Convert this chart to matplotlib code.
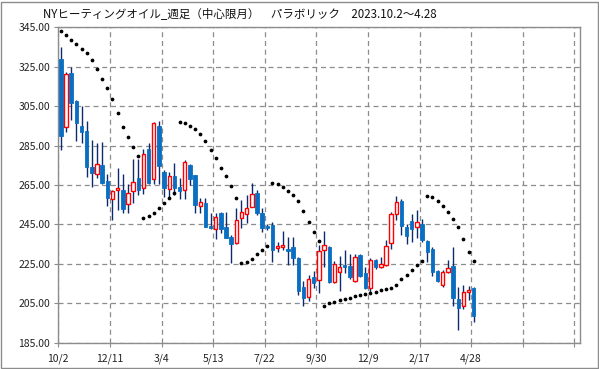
import matplotlib
matplotlib.use("Agg")
import matplotlib.pyplot as plt
from matplotlib.patches import Rectangle
import numpy as np

plt.rcParams['font.family'] = ['Noto Sans CJK JP', 'DejaVu Sans']

title = "NYヒーティングオイル_週足（中心限月）　パラボリック　2023.10.2〜4.28"
xtick_labels = ["10/2", "12/11", "3/4", "5/13", "7/22", "9/30", "12/9", "2/17", "4/28", "", ""]
yticks = [185, 205, 225, 245, 265, 285, 305, 325, 345]

opens = [328.8, 294.5, 321.7, 307.5, 294.8, 292.4, 274.2, 270.5, 274.9, 266.8,
         257.7, 262.7, 262.7, 255.3, 261.9, 268.5, 263.3, 283.5, 268.0, 294.8,
         271.4, 262.9, 269.5, 263.9, 262.4, 275.1, 270.0, 254.4, 255.7, 244.1,
         242.8, 250.6, 243.6, 238.7, 235.4, 248.1, 250.1, 253.9, 261.0, 250.6,
         244.1, 244.7, 232.8, 233.8, 232.5, 233.4, 228.1, 213.4, 208.3, 218.5,
         216.8, 232.0, 233.5, 215.9, 220.7, 224.4, 223.9, 216.4, 229.4, 220.2,
         212.9, 226.9, 223.5, 224.2, 235.4, 250.2, 256.8, 243.5, 246.7, 243.5,
         245.2, 236.7, 232.5, 221.3, 214.2, 221.0, 223.9, 207.1, 203.6, 210.6,
         212.6]
highs = [335.0, 322.5, 324.9, 308.0, 305.0, 297.4, 287.7, 286.4, 286.9, 270.4,
         262.5, 273.4, 270.4, 265.4, 278.3, 278.3, 283.3, 286.1, 297.2, 297.5,
         272.5, 271.4, 276.2, 268.8, 277.5, 275.5, 270.3, 258.2, 258.2, 250.9,
         250.9, 251.1, 251.1, 239.6, 253.1, 257.3, 259.9, 265.8, 262.4, 253.1,
         245.0, 246.3, 236.2, 241.6, 238.7, 238.4, 228.3, 216.4, 219.3, 221.3,
         234.5, 241.6, 234.0, 226.4, 228.9, 232.0, 229.8, 230.0, 229.8, 223.2,
         227.8, 227.6, 228.6, 237.0, 251.4, 259.4, 257.7, 245.2, 250.1, 252.3,
         247.5, 237.0, 233.4, 221.8, 221.8, 226.9, 233.4, 213.4, 214.2, 213.7,
         213.1]
lows = [283.0, 291.9, 297.9, 287.4, 286.1, 269.1, 264.1, 268.6, 265.5, 254.4,
        247.2, 252.3, 250.6, 250.6, 255.7, 259.9, 260.2, 265.5, 265.4, 265.4,
        259.0, 257.7, 259.9, 257.7, 257.7, 264.9, 250.9, 250.9, 243.6, 242.5,
        237.4, 240.4, 238.2, 225.2, 235.2, 243.0, 245.5, 253.7, 249.7, 241.3,
        242.0, 226.1, 231.1, 232.0, 224.4, 224.4, 209.2, 203.6, 206.1, 212.6,
        210.0, 223.5, 215.4, 215.4, 211.4, 220.2, 217.3, 216.0, 218.5, 212.1,
        210.8, 222.6, 223.0, 223.9, 232.7, 247.2, 239.6, 235.0, 236.2, 237.9,
        236.0, 226.1, 218.8, 215.9, 213.4, 220.2, 203.8, 191.4, 201.9, 206.6,
        195.6]
closes = [289.9, 321.2, 306.8, 296.7, 291.9, 274.2, 271.2, 275.9, 265.8, 258.2,
          261.9, 263.6, 252.6, 260.7, 266.6, 262.7, 280.5, 265.8, 296.2, 274.7,
          263.6, 269.5, 263.6, 262.0, 276.7, 268.0, 254.8, 256.2, 243.8, 243.3,
          248.6, 242.6, 238.2, 234.9, 247.2, 251.1, 253.1, 260.2, 250.6, 243.3,
          243.3, 232.0, 234.2, 234.4, 231.6, 227.8, 211.4, 207.8, 217.3, 215.1,
          231.5, 234.4, 215.9, 224.7, 223.2, 223.5, 218.1, 228.3, 219.0, 212.9,
          226.9, 223.2, 224.7, 234.3, 250.1, 256.2, 244.3, 239.2, 242.6, 246.0,
          237.0, 231.1, 221.0, 216.4, 220.7, 222.7, 207.8, 202.4, 210.8, 211.0,
          198.7]
sar = [343.0, 341.3, 338.8, 336.7, 334.2, 332.0, 328.6, 323.6, 319.0, 314.4,
       308.4, 301.3, 294.5, 289.1, 284.3, 279.8, 248.1, 249.2, 250.6, 253.1,
       255.7, 258.2, 260.7, 297.0, 296.2, 294.8, 293.2, 291.1, 287.4, 283.0,
       278.8, 273.7, 269.8, 264.4, 258.5, 225.2, 226.1, 227.3, 229.8, 232.0,
       234.0, 265.8, 265.3, 263.9, 262.0, 259.7, 257.1, 251.9, 246.3, 241.3,
       236.7, 203.8, 205.0, 205.5, 206.6, 207.1, 207.8, 208.6, 209.2, 209.7,
       210.3, 210.8, 211.7, 212.2, 212.5, 214.2, 217.3, 219.3, 221.8, 224.2,
       226.4, 259.4, 258.7, 257.0, 254.6, 251.1, 247.8, 243.5, 237.4, 231.1,
       226.4]

W, H = 599, 369
fig = plt.figure(figsize=(W / 100, H / 100), dpi=100)
fig.patch.set_facecolor('white')
ax = fig.add_axes([58.3 / W, (H - 342.7) / H, (580 - 58.3) / W, (342.7 - 27.3) / H])

grid_c = '#8c8c8c'
n = len(opens)
xs = np.arange(n) + 0.5
bw = 0.66
for i in range(n):
    o, h, l, c = opens[i], highs[i], lows[i], closes[i]
    ax.vlines(xs[i], l, h, color='#0c2a6e', lw=1.0, zorder=3)
    bottom = min(o, c)
    height = max(abs(c - o), 0.9)
    if c >= o:
        r = Rectangle((xs[i] - bw / 2, bottom), bw, height, facecolor='white',
                      edgecolor='#ff0000', lw=1.0, zorder=4)
    else:
        r = Rectangle((xs[i] - bw / 2, bottom), bw, height, facecolor='#0a6fc2',
                      edgecolor='#0a6fc2', lw=0.6, zorder=4)
    ax.add_patch(r)

ax.plot(xs, sar, linestyle='none', marker='o', markersize=1.7, color='black', zorder=5)

ax.set_xlim(0, 101.1)
ax.set_ylim(185, 345)
ax.set_yticks(yticks)
ax.set_yticklabels([f"{v:.2f}" for v in yticks])
ax.set_xticks(np.arange(0, 101, 10))
ax.set_xticklabels(xtick_labels)
ax.tick_params(axis='both', direction='out', length=3, color=grid_c, labelsize=7.5,
               labelcolor='#222222', pad=3)
ax.tick_params(axis='x', pad=5)
ax.grid(True, color=grid_c, linestyle=(0, (4, 3)), lw=0.9, zorder=0)
for s in ax.spines.values():
    s.set_color(grid_c)
    s.set_linewidth(1.0)

fig.add_artist(Rectangle((0.5 / W, 1.5 / H), 597 / W, 366 / H, transform=fig.transFigure,
                         fill=False, edgecolor='#8c8c8c', lw=1.0))
fig.text(43 / W, 1 - 14 / H, title, ha='left', va='center', fontsize=8.3, color='#111111')

fig.savefig('out.png', dpi=100)
